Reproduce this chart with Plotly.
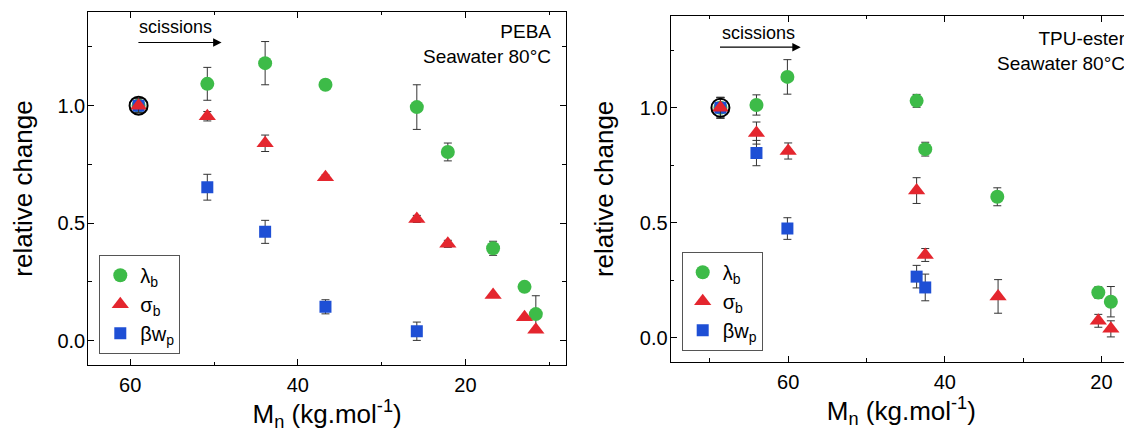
import plotly.graph_objects as go

FONT = "Liberation Sans"
GREEN = "#3DBB48"
RED = "#E4262E"
BLUE = "#1E4FD5"
ERRC = "#333333"

# ---------------- PEBA (left panel) ----------------
peba_mn = [59.0, 50.8, 43.9, 36.7, 25.8, 22.1, 16.7, 12.95, 11.6]
peba_lambda = [1.0, 1.093, 1.181, 1.089, 0.994, 0.803, 0.393, 0.229, 0.113]
peba_lambda_err = [0.03, 0.07, 0.092, 0.02, 0.095, 0.038, 0.03, 0.0, 0.078]
peba_sigma = [1.0, 0.955, 0.84, 0.695, 0.518, 0.412, 0.194, 0.099, 0.046]
peba_sigma_err = [0.03, 0.02, 0.035, 0.01, 0.015, 0.015, 0.0, 0.0, 0.0]
peba_beta_mn = [59.0, 50.8, 43.9, 36.7, 25.8]
peba_beta = [1.0, 0.653, 0.463, 0.144, 0.04]
peba_beta_err = [0.03, 0.055, 0.049, 0.03, 0.039]
peba_ref_mn = [59.0]
peba_ref_val = [1.0]

# ---------------- TPU-ester (right panel) ----------------
tpu_lambda_mn = [68.65, 64.05, 60.1, 43.6, 42.5, 33.3, 20.4, 18.8]
tpu_lambda = [1.0, 1.012, 1.134, 1.030, 0.820, 0.613, 0.197, 0.157]
tpu_lambda_err = [0.045, 0.044, 0.075, 0.028, 0.03, 0.039, 0.025, 0.066]
tpu_sigma_mn = [68.65, 64.05, 60.0, 43.6, 42.5, 33.2, 20.4, 18.8]
tpu_sigma = [1.0, 0.89, 0.812, 0.64, 0.36, 0.18, 0.074, 0.039]
tpu_sigma_err = [0.045, 0.048, 0.035, 0.056, 0.028, 0.073, 0.028, 0.035]
tpu_beta_mn = [68.65, 64.05, 60.1, 43.6, 42.5]
tpu_beta = [1.0, 0.803, 0.475, 0.266, 0.219]
tpu_beta_err = [0.045, 0.055, 0.047, 0.049, 0.058]
tpu_ref_mn = [68.65]
tpu_ref_val = [1.0]

series_names = ["λ<sub>b</sub>", "σ<sub>b</sub>", "βw<sub>p</sub>"]

fig = go.Figure()


def err(arr):
    return dict(type="data", array=arr, color=ERRC, thickness=1, width=4)


def add_panel(xa, ya, leg, lam_x, lam, lam_e, sig_x, sig, sig_e, bet_x, bet, bet_e, ref_x, ref_y):
    fig.add_trace(go.Scatter(
        x=lam_x, y=lam, mode="markers", name=series_names[0], legend=leg, legendrank=1,
        marker=dict(symbol="circle", size=14, color=GREEN, line=dict(width=0)),
        error_y=err(lam_e), xaxis=xa, yaxis=ya))
    fig.add_trace(go.Scatter(
        x=bet_x, y=bet, mode="markers", name=series_names[2], legend=leg, legendrank=3,
        marker=dict(symbol="square", size=12, color=BLUE, line=dict(width=0)),
        error_y=err(bet_e), xaxis=xa, yaxis=ya))
    fig.add_trace(go.Scatter(
        x=sig_x, y=sig, mode="markers", name=series_names[1], legend=leg, legendrank=2,
        marker=dict(symbol="triangle-up", size=15, color=RED, line=dict(width=0)),
        error_y=err(sig_e), xaxis=xa, yaxis=ya))
    fig.add_trace(go.Scatter(
        x=ref_x, y=ref_y, mode="markers", showlegend=False, hoverinfo="skip",
        marker=dict(symbol="circle-open", size=18, color="black", line=dict(width=2, color="black")),
        xaxis=xa, yaxis=ya))


add_panel("x", "y", "legend", peba_mn, peba_lambda, peba_lambda_err, peba_mn, peba_sigma,
          peba_sigma_err, peba_beta_mn, peba_beta, peba_beta_err, peba_ref_mn, peba_ref_val)
add_panel("x2", "y2", "legend2", tpu_lambda_mn, tpu_lambda, tpu_lambda_err, tpu_sigma_mn, tpu_sigma,
          tpu_sigma_err, tpu_beta_mn, tpu_beta, tpu_beta_err, tpu_ref_mn, tpu_ref_val)

# the page body has an 8 px margin: figure is placed at (8, 8) in the window
OFF = 8
W, H = 1132 - OFF, 432 - OFF


def fx(px):
    return (px - OFF) / W


def fy(py):
    return 1 - (py - OFF) / H


def xaxis(domain, rng, anchor, mirror):
    return dict(
        domain=domain, range=rng, autorange=False, anchor=anchor, automargin=False,
        tickmode="linear", tick0=0, dtick=20,
        ticks="inside", ticklen=6, tickwidth=1, tickcolor="black",
        minor=dict(dtick=10, tick0=0, ticks="inside", ticklen=3.5, tickwidth=1, tickcolor="black"),
        showline=True, linecolor="black", linewidth=1.2, mirror=mirror,
        showgrid=False, zeroline=False,
        tickfont=dict(family=FONT, size=20, color="black"),
        ticklabelstandoff=2,
        title=dict(text="M<sub>n</sub> (kg.mol<sup>-1</sup>)",
                   font=dict(family=FONT, size=26, color="black"), standoff=8),
    )


def yaxis(domain, anchor, mirror):
    return dict(
        domain=domain, range=[-0.105, 1.40], autorange=False, anchor=anchor, automargin=False,
        tickmode="linear", tick0=0, dtick=0.5, tickformat=".1f",
        ticks="inside", ticklen=6, tickwidth=1, tickcolor="black",
        minor=dict(dtick=0.25, tick0=0, ticks="inside", ticklen=3.5, tickwidth=1, tickcolor="black"),
        showline=True, linecolor="black", linewidth=1.2, mirror=mirror,
        showgrid=False, zeroline=False,
        tickfont=dict(family=FONT, size=20, color="black"),
        ticklabelstandoff=-2,
        title=dict(text="relative change", font=dict(family=FONT, size=26, color="black"), standoff=18),
    )


leg_common = dict(
    bgcolor="white", bordercolor="#555555", borderwidth=1,
    font=dict(family=FONT, size=20, color="black"),
    xanchor="left", yanchor="top", tracegroupgap=0, itemsizing="trace",
    traceorder="normal",
)

fig.update_layout(
    width=W, height=H,
    margin=dict(l=0, r=0, t=0, b=0, autoexpand=False),
    paper_bgcolor="white", plot_bgcolor="white",
    font=dict(family=FONT, color="black"),
    xaxis=xaxis([fx(88.3), fx(566)], [65, 8], "y", "ticks"),
    yaxis=yaxis([fy(365.3), fy(11.7)], "x", "ticks"),
    xaxis2=xaxis([fx(670.7), 1.0], [75, 16.1], "y2", "ticks"),
    yaxis2=yaxis([fy(362), fy(15.7)], "x2", False),
    legend=dict(x=fx(99.3), y=fy(254.7), **leg_common),
    legend2=dict(x=fx(681.7), y=fy(251.7), **leg_common),
    showlegend=True,
)

# annotations: scissions arrows and sample labels
fig.add_annotation(x=54.55, y=1.334, xref="x", yref="y", text="scissions", showarrow=False,
                   font=dict(family=FONT, size=18, color="black"))
fig.add_annotation(x=49.1, y=1.269, ax=59.2, ay=1.269, xref="x", yref="y", axref="x", ayref="y",
                   text="", showarrow=True, arrowhead=2, arrowsize=1.4, arrowwidth=1.2, arrowcolor="black")
fig.add_annotation(x=63.75, y=1.326, xref="x2", yref="y2", text="scissions", showarrow=False,
                   font=dict(family=FONT, size=18, color="black"))
fig.add_annotation(x=58.4, y=1.263, ax=68.9, ay=1.263, xref="x2", yref="y2", axref="x2", ayref="y2",
                   text="", showarrow=True, arrowhead=2, arrowsize=1.4, arrowwidth=1.2, arrowcolor="black")

fig.add_annotation(x=fx(553), y=fy(44.4), xref="paper", yref="paper", xanchor="right", yanchor="middle",
                   text="PEBA<br>Seawater 80°C", align="right", showarrow=False,
                   font=dict(family=FONT, size=19, color="black"))
fig.add_annotation(x=fx(1128), y=fy(50.8), xref="paper", yref="paper", xanchor="right", yanchor="middle",
                   text="TPU-ester<br>Seawater 80°C", align="right", showarrow=False,
                   font=dict(family=FONT, size=19, color="black"))

fig.write_html("out.html")
